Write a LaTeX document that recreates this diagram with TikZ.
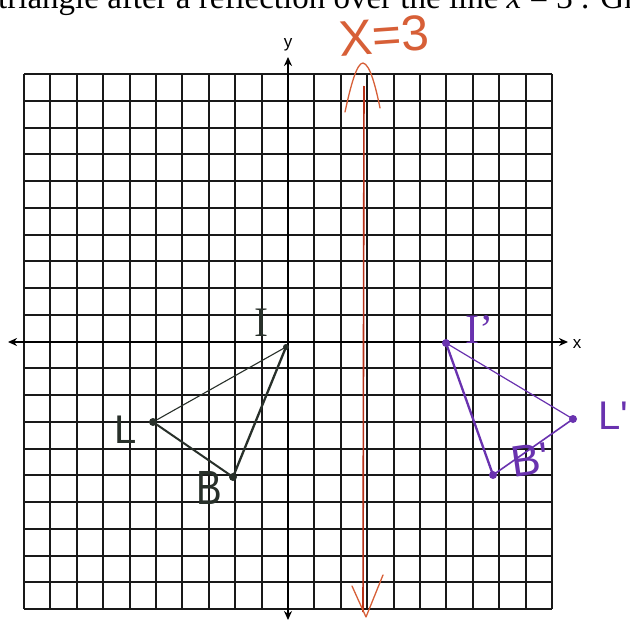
\documentclass[tikz,border=0pt]{standalone}
\usepackage{fontspec}
\setmainfont{Liberation Serif}
\newfontfamily\handfont{Liberation Sans}
\usetikzlibrary{arrows.meta}
\definecolor{gridc}{RGB}{25,25,25}
\definecolor{penred}{RGB}{215,95,55}
\definecolor{lineRed}{RGB}{185,50,25}
\definecolor{penpurple}{RGB}{105,50,175}
\definecolor{pengray}{RGB}{40,48,42}
\begin{document}
\begin{tikzpicture}[x=1pt,y=-1pt,
  gridline/.style={line width=2pt, draw=gridc},
  axisline/.style={line width=2.2pt, draw=black, {Stealth[length=9pt,width=8pt]}-{Stealth[length=9pt,width=8pt]}},
  axislabel/.style={font=\handfont\fontsize{17}{17}\selectfont, inner sep=0pt},
  vdot/.style={circle, inner sep=0pt, minimum size=8pt, fill=#1},
  handlabel/.style={inner sep=0pt, text=#1},
  penstroke/.style={draw=#1, line width=1.3pt, line cap=round, line join=round}
]
\useasboundingbox (0,0) rectangle (630,621);
\fill[white] (0,0) rectangle (630,621);

% heading (cut off at the top)
\node[anchor=base west, inner sep=0pt, font=\fontsize{33}{33}\selectfont] (head) at (-2,9)
  {triangle after a reflection over the line \textit{x} = 3 . Gr};

% grid
\foreach \i in {0,...,20} \draw[gridline] ({24+26.4*\i},74) -- ({24+26.4*\i},609);
\foreach \j in {0,...,20} \draw[gridline] (24,{74+26.75*\j}) -- (552,{74+26.75*\j});

% axes
\coordinate (xl) at (8,342);
\coordinate (xr) at (568,342);
\coordinate (yt) at (288,57);
\coordinate (yb) at (288,620);
\draw[axisline] (xl) -- (xr);
\draw[axisline] (yb) -- (yt);
\node[axislabel] (xlab) at (577,344) {x};
\node[axislabel] (ylab) at (288,45) {y};

% red line x = 3
\coordinate (rt) at (364,86);
\coordinate (rb) at (363,612);
\draw[lineRed, line width=1.6pt] (rt) -- (rb);
\coordinate (ta) at (345,112);
\coordinate (tp) at (363,63);
\coordinate (tb) at (380,108);
\draw[penstroke=penred] (ta) .. controls (351,84) and (357,63) .. (tp) .. controls (370,64) and (376,88) .. (tb);
\coordinate (ba) at (352,586);
\coordinate (bp) at (366,617);
\coordinate (bb) at (383,575);
\draw[penstroke=penred] (ba) -- (bp) -- (bb);
\node[handlabel=penred, font=\handfont\fontsize{50}{50}\selectfont, rotate=4] (xeq) at (384,36) {X=3};

% original triangle
\node[vdot=pengray, minimum size=6pt] (I) at (286,347) {};
\node[vdot=pengray] (L) at (153,422) {};
\node[vdot=pengray] (B) at (233,477) {};
\draw[pengray, line width=1.1pt] (I.center) -- (L.center);
\draw[pengray, line width=2pt] (L.center) -- (B.center);
\draw[pengray, line width=2.3pt] (B.center) -- (I.center);
\node[handlabel=pengray, font=\fontsize{42}{42}\selectfont] (Ilab) at (261,323) {I};
\node[handlabel=pengray, font=\handfont\fontsize{40}{40}\selectfont] (Llab) at (126,430) {L};
\node[handlabel=pengray, font=\handfont\fontsize{48}{48}\selectfont, xscale=0.8] (Blab) at (209,488) {B};

% reflected triangle
\node[vdot=penpurple] (Ip) at (446,343) {};
\node[vdot=penpurple] (Lp) at (573,419) {};
\node[vdot=penpurple] (Bp) at (493,475) {};
\draw[penpurple, line width=1.2pt] (Ip.center) -- (Lp.center);
\draw[penpurple, line width=1.6pt] (Lp.center) -- (Bp.center);
\draw[penpurple, line width=2.3pt] (Bp.center) -- (Ip.center);
\node[handlabel=penpurple, font=\fontsize{42}{42}\selectfont] (Iplab) at (479,330) {I'};
\node[handlabel=penpurple, font=\handfont\fontsize{40}{40}\selectfont] (Lplab) at (613,416) {L'};
\node[handlabel=penpurple, font=\handfont\fontsize{44}{44}\selectfont, rotate=8] (Bplab) at (530,460) {B'};
\end{tikzpicture}
\end{document}
